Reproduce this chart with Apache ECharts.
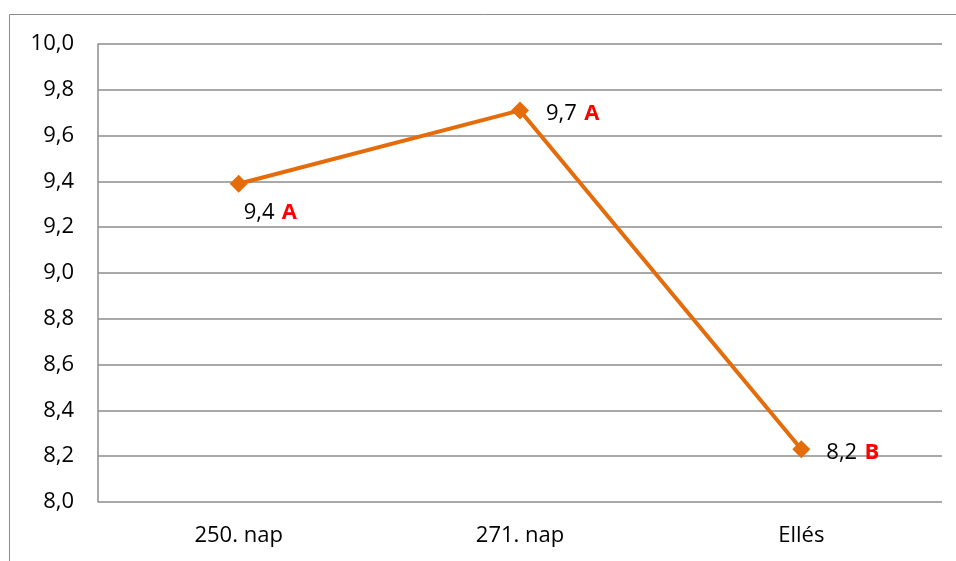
<!DOCTYPE html>
<html><head><meta charset="utf-8">
<script src="https://cdn.jsdelivr.net/npm/echarts@6/dist/echarts.min.js"></script>
<style>html,body{margin:0;padding:0;background:#fff}#c{width:956px;height:561px}</style>
</head><body><div id="c"></div>
<script>
const categories = ['250. nap', '271. nap', 'Ellés'];
const values = [9.39, 9.71, 8.23];
const valueTexts = ['9,4', '9,7', '8,2'];
const letters = ['A', 'A', 'B'];
const yTicks = { min: 8.0, max: 10.0, interval: 0.2 };

const labelOffsets = [[-9, 29], [12, 3], [11, 3]];
const chart = echarts.init(document.getElementById('c'));
const FONT = '"Open Sans", "Liberation Sans", sans-serif';
const FS = 22;
chart.setOption({
  animation: false,
  graphic: [{
    type: 'rect', shape: { x: 9.5, y: 14.5, width: 1000, height: 600 },
    style: { fill: 'none', stroke: '#8c8c8c', lineWidth: 1 }, silent: true
  }],
  grid: { left: 98, right: 14, top: 44, bottom: 59 },
  xAxis: {
    type: 'category', data: categories, boundaryGap: true,
    axisLine: { show: false }, axisTick: { show: false },
    axisLabel: { color: '#000', fontSize: FS, fontFamily: FONT, margin: 23 },
    splitLine: { show: false }
  },
  yAxis: {
    type: 'value', min: yTicks.min, max: yTicks.max, interval: yTicks.interval,
    axisLine: { show: true, lineStyle: { color: '#8c8c8c', width: 1.5 } },
    axisTick: { show: false },
    axisLabel: { color: '#000', fontSize: FS, fontFamily: FONT, margin: 24,
      formatter: v => v.toFixed(1).replace('.', ',') },
    splitLine: { show: true, lineStyle: { color: '#8c8c8c', width: 1.5 } }
  },
  series: [{
    type: 'line',
    data: values.map((v, i) => ({
      value: v,
      label: { offset: labelOffsets[i] }
    })),
    lineStyle: { color: '#E46C0A', width: 4 },
    itemStyle: { color: '#E46C0A' },
    symbol: 'diamond', symbolSize: 18,
    label: {
      show: true, position: 'right', distance: 5,
      formatter: p => '{v|' + valueTexts[p.dataIndex] + '} {l|' + letters[p.dataIndex] + '}',
      rich: {
        v: { color: '#000', fontSize: FS, fontFamily: FONT },
        l: { color: '#FF0000', fontSize: FS, fontWeight: 'bold', fontFamily: FONT, padding: [0, 0, 0, 4] }
      }
    }
  }]
});
</script></body></html>
